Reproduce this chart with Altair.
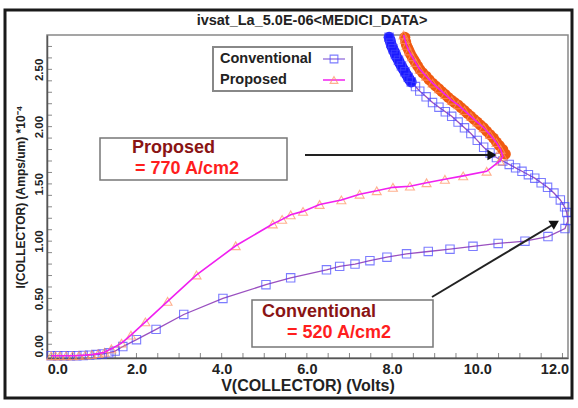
import altair as alt
import pandas as pd

# ---------------- data ----------------
conv_fwd_v = [0.0, 0.15, 0.3, 0.45, 0.6, 0.75, 0.9, 1.05, 1.2, 1.35, 1.5, 1.68, 2.0, 2.46, 3.11,
              4.03, 5.04, 5.62, 6.46, 6.77, 7.13, 7.48, 7.88, 8.34, 8.85, 9.36, 9.9, 10.49,
              11.12, 11.66, 12.06]
conv_fwd_i = [0.0, 0.0, 0.0, 0.0, 0.0, 0.002, 0.005, 0.01, 0.015, 0.025, 0.04, 0.08, 0.14, 0.23, 0.36,
              0.50, 0.62, 0.68, 0.75, 0.78, 0.80, 0.83, 0.86, 0.89, 0.91, 0.93, 0.955, 0.98,
              1.0, 1.04, 1.11]
conv_back_v = [12.13, 12.1, 12.05, 11.95, 11.8, 11.65, 11.5, 11.35, 11.2, 11.05, 10.9, 10.75, 10.6,
               10.45, 10.3, 10.15, 10.0, 9.85, 9.7, 9.55, 9.4, 9.25, 9.1, 8.95, 8.8, 8.65, 8.55,
               8.45, 8.38, 8.3, 8.22, 8.15, 8.08, 8.02, 7.97, 7.93]
conv_back_i = [1.18, 1.25, 1.30, 1.36, 1.42, 1.47, 1.51, 1.55, 1.58, 1.61, 1.64, 1.67, 1.70,
               1.73, 1.77, 1.82, 1.88, 1.94, 1.99, 2.04, 2.09, 2.13, 2.17, 2.21, 2.26, 2.31, 2.35,
               2.39, 2.43, 2.48, 2.53, 2.58, 2.63, 2.68, 2.73, 2.78]

prop_fwd_v = [0.0, 0.1, 0.2, 0.35, 0.5, 0.65, 0.8, 0.95, 1.1, 1.25, 1.41, 1.65, 1.87, 2.21, 2.73,
              3.41, 4.33, 5.2, 5.42, 5.62, 5.91, 6.3, 6.81, 7.24, 7.64, 8.02, 8.42, 8.81, 9.24,
              9.67, 10.22, 10.53]
prop_fwd_i = [0.0, 0.0, 0.0, 0.0, 0.0, 0.002, 0.005, 0.01, 0.018, 0.03, 0.06, 0.11, 0.18, 0.295, 0.475,
              0.705, 0.96, 1.15, 1.19, 1.23, 1.26, 1.32, 1.36, 1.41, 1.44, 1.47, 1.48, 1.51, 1.54,
              1.57, 1.61, 1.70]
prop_back_v = [10.6, 10.55, 10.45, 10.3, 10.15, 10.0, 9.85, 9.7, 9.55, 9.4, 9.25, 9.1, 8.95, 8.8,
               8.65, 8.55, 8.47, 8.4, 8.34, 8.3, 8.27]
prop_back_i = [1.74, 1.80, 1.86, 1.93, 1.99, 2.04, 2.09, 2.14, 2.19, 2.23, 2.28, 2.33, 2.38, 2.44,
               2.50, 2.56, 2.61, 2.66, 2.71, 2.76, 2.80]

# dense (overlapping) marker bands near the top of the return branches
conv_band_v = [8.45, 8.41, 8.38, 8.34, 8.3, 8.26, 8.22, 8.18, 8.15, 8.11, 8.08, 8.05, 8.02,
               7.99, 7.97, 7.95, 7.93]
conv_band_i = [2.39, 2.41, 2.43, 2.455, 2.48, 2.505, 2.53, 2.555, 2.58, 2.605, 2.63, 2.655, 2.68,
               2.705, 2.73, 2.755, 2.78]
prop_band_v = [10.66, 10.6, 10.52, 10.45, 10.38, 10.3, 10.22, 10.15, 10.07, 10.0, 9.92, 9.85,
               9.77, 9.7, 9.62, 9.55, 9.47, 9.4, 9.32, 9.25, 9.17, 9.1, 9.02, 8.95, 8.87, 8.8,
               8.72, 8.65, 8.6, 8.55, 8.51, 8.47, 8.43, 8.4, 8.37, 8.34, 8.32, 8.3]
prop_band_i = [1.76, 1.80, 1.835, 1.865, 1.9, 1.93, 1.96, 1.99, 2.015, 2.04, 2.065, 2.09,
               2.115, 2.14, 2.165, 2.19, 2.21, 2.23, 2.255, 2.28, 2.305, 2.33, 2.355, 2.38, 2.41, 2.44,
               2.47, 2.50, 2.53, 2.56, 2.585, 2.61, 2.635, 2.66, 2.685, 2.71, 2.74, 2.78]

x_major = [0, 2, 4, 6, 8, 10, 12]
y_major = [0.0, 0.5, 1.0, 1.5, 2.0, 2.5]
x_minor = [k * 0.5 for k in range(0, 25)]
y_minor = [k * 0.1 for k in range(0, 28)]

title_text = "ivsat_La_5.0E-06<MEDICI_DATA>"
x_title = "V(COLLECTOR) (Volts)"
y_title = "I(COLLECTOR) (Amps/um) *10\u207b\u2074"
legend_names = ["Conventional", "Proposed"]
ann_prop = ["Proposed", "= 770 A/cm2"]
ann_conv = ["Conventional", "= 520 A/cm2"]

# ---------------- layout / style ----------------
W, H = 521, 323
XD = [-0.1, 12.13]
YD = [-0.02, 2.8]
FONT = "Liberation Sans"
C_SQ = "#4646ff"
C_CONV_LINE = "#9a50c0"
C_TRI = "#ff9060"
C_PROP_LINE = "#f020f0"
C_BLUE_BAND = "#1a1aff"
C_ORANGE_BAND = "#f05a10"
DARK_RED = "#8a1414"
RED = "#ff1e1e"


def frame(v, i):
    df = pd.DataFrame({"v": v, "i": i})
    df["idx"] = range(len(df))
    return df


conv = frame(conv_fwd_v + conv_back_v, conv_fwd_i + conv_back_i)
prop = frame(prop_fwd_v + prop_back_v, prop_fwd_i + prop_back_i)
conv_band = frame(conv_band_v, conv_band_i)
prop_band = frame(prop_band_v, prop_band_i)
xtick_df = pd.DataFrame({"v": x_minor})
ytick_df = pd.DataFrame({"i": y_minor})

xs = alt.Scale(domain=XD, nice=False, zero=False)
ys = alt.Scale(domain=YD, nice=False, zero=False)

x_axis = alt.Axis(
    values=x_major, format=".1f", title=x_title, ticks=False, grid=False,
    labelFont=FONT, labelFontSize=14.5, labelFontWeight="bold", labelColor="#222",
    labelPadding=4, titleFont=FONT, titleFontSize=16, titleFontWeight="bold",
    titleColor="#222", titlePadding=2, domainColor="#555", domainWidth=1.5,
    labelFlush=False,
    labelOffset={"condition": [{"test": "datum.value === 0", "value": 6},
                               {"test": "datum.value === 12", "value": -8}],
                 "value": 0})
y_axis = alt.Axis(
    values=y_major, format=".2f", title=y_title, ticks=False, grid=False,
    labelFont=FONT, labelFontSize=11.5, labelFontWeight="bold", labelColor="#222",
    labelAngle=270, labelPadding=3, titleFont=FONT, titleFontSize=12,
    titleFontWeight="bold", titleColor="#222", titlePadding=6,
    domainColor="#555", domainWidth=1.5, labelFlush=False,
    labelOffset={"condition": {"test": "datum.value === 0", "value": -10}, "value": 0})
X = alt.X("v:Q", scale=xs, axis=x_axis)
Y = alt.Y("i:Q", scale=ys, axis=y_axis)

one = pd.DataFrame({"a": [0]})

# ticks pointing inward
xt = alt.Chart(xtick_df).mark_tick(
    orient="vertical", size=5, thickness=1, color="#555").encode(x=X, y=alt.value(H - 2.5))
yt = alt.Chart(ytick_df).mark_tick(
    orient="horizontal", size=5, thickness=1, color="#555").encode(y=Y, x=alt.value(2.5))

# series
conv_line = alt.Chart(conv).mark_line(color=C_CONV_LINE, strokeWidth=1.3).encode(
    x=X, y=Y, order="idx:Q")
conv_band_p = alt.Chart(conv_band).mark_point(shape="circle", filled=True, color=C_BLUE_BAND,
                                              size=120, opacity=1).encode(x=X, y=Y)
conv_pts = alt.Chart(conv).mark_point(shape="square", filled=False, color=C_SQ,
                                      size=70, strokeWidth=1.1).encode(x=X, y=Y)
prop_band_p = alt.Chart(prop_band).mark_point(shape="circle", filled=True, color=C_ORANGE_BAND,
                                              size=120, opacity=1).encode(x=X, y=Y)
prop_pts = alt.Chart(prop).mark_point(shape="triangle-up", filled=False, color=C_TRI,
                                      size=80, strokeWidth=1.1).encode(x=X, y=Y)
prop_line = alt.Chart(prop).mark_line(color=C_PROP_LINE, strokeWidth=1.6).encode(
    x=X, y=Y, order="idx:Q")

# title
title = alt.Chart(one).mark_text(text=title_text, font=FONT, fontSize=14.5, fontWeight="bold",
                                 color="#222", align="center", baseline="middle").encode(
    x=alt.value(265), y=alt.value(-14))

# outer frame
outer = alt.Chart(one).mark_rect(fill=None, stroke="#1a1a1a", strokeWidth=3).encode(
    x=alt.value(-42), x2=alt.value(525), y=alt.value(-25), y2=alt.value(363))

# legend
leg_box = alt.Chart(one).mark_rect(fill="white", stroke="#888", strokeWidth=2).encode(
    x=alt.value(166), x2=alt.value(305), y=alt.value(12), y2=alt.value(56))
leg_t1 = alt.Chart(one).mark_text(text=legend_names[0], font=FONT, fontSize=14.5,
                                  fontWeight="bold", color="#222", align="left",
                                  baseline="middle").encode(x=alt.value(173), y=alt.value(24))
leg_t2 = alt.Chart(one).mark_text(text=legend_names[1], font=FONT, fontSize=14.5,
                                  fontWeight="bold", color="#222", align="left",
                                  baseline="middle").encode(x=alt.value(173), y=alt.value(45))
leg_l1 = alt.Chart(one).mark_rule(color="#a080e0", strokeWidth=1.5).encode(
    x=alt.value(276), x2=alt.value(298), y=alt.value(24))
leg_p1 = alt.Chart(one).mark_point(shape="square", filled=False, color=C_SQ, size=60,
                                   strokeWidth=1.1).encode(x=alt.value(287), y=alt.value(24))
leg_l2 = alt.Chart(one).mark_rule(color=C_PROP_LINE, strokeWidth=1.5).encode(
    x=alt.value(276), x2=alt.value(298), y=alt.value(45))
leg_p2 = alt.Chart(one).mark_point(shape="triangle-up", filled=False, color=C_TRI, size=60,
                                   strokeWidth=1.1).encode(x=alt.value(287), y=alt.value(45))

# annotation boxes
box1 = alt.Chart(one).mark_rect(fill="white", stroke="#777", strokeWidth=1.5).encode(
    x=alt.value(53), x2=alt.value(240), y=alt.value(103), y2=alt.value(145))
box2 = alt.Chart(one).mark_rect(fill="white", stroke="#777", strokeWidth=1.5).encode(
    x=alt.value(205), x2=alt.value(386), y=alt.value(265), y2=alt.value(312))
t1a = alt.Chart(one).mark_text(text=ann_prop[0], font=FONT, fontSize=18, fontWeight="bold",
                               color=DARK_RED, align="left", baseline="middle").encode(
    x=alt.value(85), y=alt.value(113))
t1b = alt.Chart(one).mark_text(text=ann_prop[1], font=FONT, fontSize=18, fontWeight="bold",
                               color=RED, align="left", baseline="middle").encode(
    x=alt.value(88), y=alt.value(134))
t2a = alt.Chart(one).mark_text(text=ann_conv[0], font=FONT, fontSize=18, fontWeight="bold",
                               color=DARK_RED, align="left", baseline="middle").encode(
    x=alt.value(215), y=alt.value(277))
t2b = alt.Chart(one).mark_text(text=ann_conv[1], font=FONT, fontSize=18, fontWeight="bold",
                               color=RED, align="left", baseline="middle").encode(
    x=alt.value(240), y=alt.value(298))

# arrows
a1 = alt.Chart(one).mark_rule(color="#222", strokeWidth=2).encode(
    x=alt.value(258), x2=alt.value(444), y=alt.value(120))
a1h = alt.Chart(one).mark_point(shape="triangle-right", filled=True, color="#111", size=110,
                                opacity=1).encode(x=alt.value(445), y=alt.value(120))
a2 = alt.Chart(one).mark_rule(color="#222", strokeWidth=2).encode(
    x=alt.value(385), x2=alt.value(507), y=alt.value(262), y2=alt.value(189))
a2h = alt.Chart(one).mark_point(shape="triangle-up", filled=True, color="#111", size=110,
                                angle=59, opacity=1).encode(x=alt.value(508), y=alt.value(188))

chart = alt.layer(
    xt, yt,
    conv_line, conv_band_p, conv_pts,
    prop_band_p, prop_pts, prop_line,
    leg_box, leg_l1, leg_p1, leg_l2, leg_p2, leg_t1, leg_t2,
    box1, box2, t1a, t1b, t2a, t2b,
    a1, a1h, a2, a2h,
    title, outer,
).properties(
    width=W, height=H,
    autosize=alt.AutoSizeParams(type="none"),
    padding={"left": 47, "top": 35, "right": 10, "bottom": 50},
    background="white",
).configure_view(stroke="#888", strokeWidth=1.5)

chart.save("out.html", embed_options={"renderer": "svg", "actions": False})
